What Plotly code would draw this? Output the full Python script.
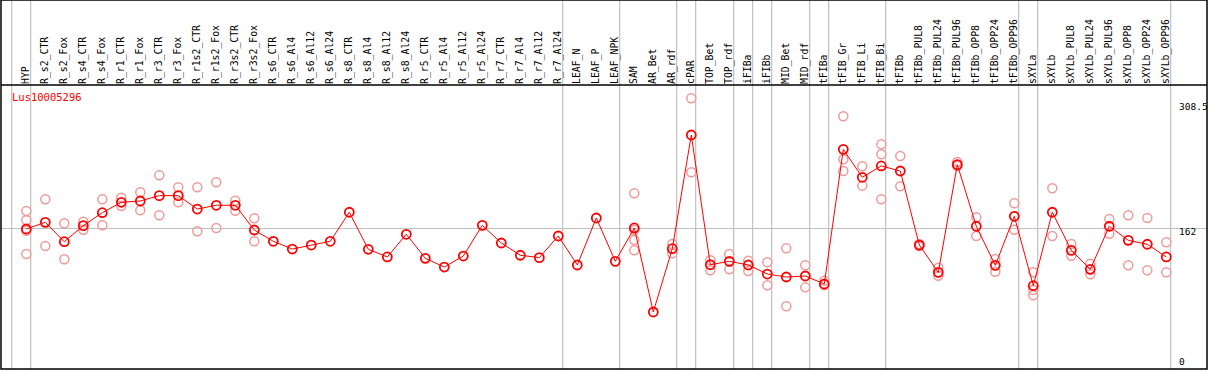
import plotly.graph_objects as go

categories = ["HYP","R_s2_CTR","R_s2_Fox","R_s4_CTR","R_s4_Fox","R_r1_CTR","R_r1_Fox","R_r3_CTR","R_r3_Fox",
 "R_r1s2_CTR","R_r1s2_Fox","R_r3s2_CTR","R_r3s2_Fox","R_s6_CTR","R_s6_Al4","R_s6_Al12","R_s6_Al24",
 "R_s8_CTR","R_s8_Al4","R_s8_Al12","R_s8_Al24","R_r5_CTR","R_r5_Al4","R_r5_Al12","R_r5_Al24",
 "R_r7_CTR","R_r7_Al4","R_r7_Al12","R_r7_Al24","LEAF_N","LEAF_P","LEAF_NPK","SAM","AR_Bet","AR_rdf",
 "cPAR","TOP_Bet","TOP_rdf","iFIBa","iFIBb","MID_Bet","MID_rdf","tFIBa","tFIB_Gr","tFIB_Li","tFIB_Bi",
 "tFIBb","tFIBb_PUL8","tFIBb_PUL24","tFIBb_PUL96","tFIBb_OPP8","tFIBb_OPP24","tFIBb_OPP96","sXYLa",
 "sXYLb","sXYLb_PUL8","sXYLb_PUL24","sXYLb_PUL96","sXYLb_OPP8","sXYLb_OPP24","sXYLb_OPP96"]

means = [161.2,169.0,146.3,165.1,180.3,192.5,194.0,200.3,200.3,184.6,189.0,189.0,160.0,146.8,137.7,
 142.4,146.8,180.8,137.4,128.4,155.0,126.8,116.6,129.5,165.5,144.8,130.4,127.6,153.0,119.0,174.1,
 123.3,162.4,63.9,138.1,271.4,119.3,123.3,119.0,108.4,104.9,106.1,96.7,254.6,221.8,235.1,229.2,
 142.4,110.4,236.6,164.4,118.6,176.1,94.7,180.8,136.2,113.9,164.4,147.9,143.3,128.4]

# replicate measurements: (category, value)
rep_cats = ["HYP","HYP","HYP","HYP","R_s2_CTR","R_s2_CTR","R_s2_Fox","R_s2_Fox","R_s4_CTR","R_s4_CTR",
 "R_s4_Fox","R_s4_Fox","R_r1_CTR","R_r1_CTR","R_r1_Fox","R_r1_Fox","R_r3_CTR","R_r3_CTR","R_r3_Fox","R_r3_Fox",
 "R_r1s2_CTR","R_r1s2_CTR","R_r1s2_Fox","R_r1s2_Fox","R_r3s2_CTR","R_r3s2_CTR","R_r3s2_Fox","R_r3s2_Fox",
 "SAM","SAM","SAM","SAM","AR_rdf","AR_rdf","cPAR","cPAR","TOP_Bet","TOP_Bet","TOP_rdf","TOP_rdf",
 "iFIBa","iFIBa","iFIBb","iFIBb","MID_Bet","MID_Bet","MID_rdf","MID_rdf","tFIBa","tFIBa",
 "tFIB_Gr","tFIB_Gr","tFIB_Gr","tFIB_Li","tFIB_Li","tFIB_Bi","tFIB_Bi","tFIB_Bi","tFIBb","tFIBb",
 "tFIBb_PUL8","tFIBb_PUL8","tFIBb_PUL24","tFIBb_PUL24","tFIBb_PUL96","tFIBb_PUL96","tFIBb_OPP8","tFIBb_OPP8",
 "tFIBb_OPP24","tFIBb_OPP24","tFIBb_OPP96","tFIBb_OPP96","sXYLa","sXYLa","sXYLa","sXYLb","sXYLb",
 "sXYLb_PUL8","sXYLb_PUL8","sXYLb_PUL24","sXYLb_PUL24","sXYLb_PUL96","sXYLb_PUL96","sXYLb_OPP8","sXYLb_OPP8",
 "sXYLb_OPP24","sXYLb_OPP24","sXYLb_OPP96","sXYLb_OPP96"]
rep_vals = [182.3,171.4,159.0,131.9,196.0,141.3,167.9,125.7,169.8,160.4,
 196.0,165.5,197.9,188.2,204.2,183.1,224.1,177.3,210.1,192.5,
 210.1,158.5,215.9,162.4,194.4,182.6,173.7,146.8,
 203.0,160.0,148.3,136.2,143.6,132.7,314.4,227.7,124.5,112.8,131.9,113.9,
 124.0,112.0,122.2,95.2,138.6,70.6,118.6,92.8,100.6,95.5,
 293.3,242.9,229.2,234.7,212.0,260.5,248.8,196.0,246.8,211.3,
 143.6,141.0,115.8,106.4,239.7,235.1,174.9,153.0,
 126.0,111.1,191.3,160.4,110.4,89.7,83.5,208.9,153.0,
 143.6,129.9,120.5,108.1,172.9,155.7,177.3,118.6,
 174.1,112.8,145.6,110.4]

group_ends = ["", "HYP", "R_r7_Al24", "LEAF_NPK", "AR_rdf", "cPAR", "TOP_rdf", "iFIBa", "iFIBb",
 "MID_rdf", "tFIBa", "tFIB_Bi", "tFIBb_OPP96", "sXYLa", "sXYLb_OPP96"]

gene_name = "Lus10005296"
y_tick_vals = [0, 162, 308.5]
y_tick_text = ["0", "162", "308.5"]

idx = {c: i + 1 for i, c in enumerate(categories)}
xs = list(range(1, len(categories) + 1))

fig = go.Figure()
fig.add_trace(go.Scatter(
    x=[idx[c] for c in rep_cats], y=rep_vals, mode="markers",
    marker=dict(symbol="circle-open", size=9, color="#f09a9a", line=dict(width=1.5, color="#f09a9a")),
    showlegend=False, hoverinfo="skip"))
fig.add_trace(go.Scatter(
    x=xs, y=means, mode="lines+markers",
    line=dict(color="red", width=1),
    marker=dict(symbol="circle-open", size=9, color="red", line=dict(width=1.8, color="red")),
    showlegend=False))

shapes = []
for g in group_ends:
    gx = (idx[g] if g else 0) + 0.23
    shapes.append(dict(type="line", xref="x", yref="paper", x0=gx, x1=gx, y0=0, y1=1.31,
                       line=dict(color="#c0c0c0", width=1.2), layer="below"))
shapes.append(dict(type="line", xref="paper", yref="paper", x0=0, x1=1, y0=1, y1=1,
                   line=dict(color="black", width=1.5)))
fig.update_layout(shapes=shapes)

annotations = [dict(text=gene_name, xref="paper", yref="paper", x=0.0075, y=0.958,
                    xanchor="left", yanchor="middle", showarrow=False,
                    font=dict(family="DejaVu Sans Mono", size=10.5, color="red"))]
label_offsets = {"0": 5.6, "162": 158.0, "308.5": 304.6}
for v, t in zip(y_tick_vals, y_tick_text):
    annotations.append(dict(text=t, xref="paper", yref="y", x=0.9755, y=label_offsets[t],
                            xanchor="left", yanchor="middle", showarrow=False,
                            font=dict(family="DejaVu Sans Mono", size=9.5, color="black")))
fig.update_layout(annotations=annotations)

fig.update_layout(
    width=1209, height=370,
    margin=dict(l=1, r=2, t=85, b=1, pad=0),
    paper_bgcolor="white", plot_bgcolor="white",
    xaxis=dict(range=[-0.332, 63.142], side="top", tickmode="array", tickvals=xs, ticktext=categories,
               tickangle=-90, showgrid=False, zeroline=False, showline=False, ticks="",
               tickfont=dict(family="DejaVu Sans Mono", size=9.8, color="black"), automargin=False),
    yaxis=dict(range=[-2.93, 330.0], tickmode="array", tickvals=[y_tick_vals[1]], showticklabels=False,
               showgrid=True, gridcolor="#c0c0c0", gridwidth=1.2, zeroline=False, showline=False,
               automargin=False),
)
# outer border
fig.add_shape(type="rect", xref="paper", yref="paper", x0=0, x1=1, y0=0, y1=1.2993,
              line=dict(color="black", width=1.5), fillcolor="rgba(0,0,0,0)")

fig.write_html("out.html", config={"displayModeBar": False},
               post_script="document.body.style.margin='0';document.body.style.padding='0';")
